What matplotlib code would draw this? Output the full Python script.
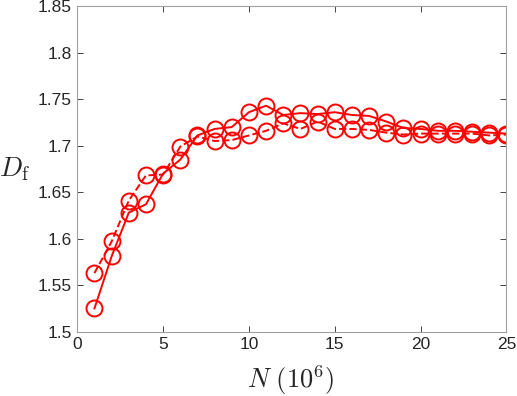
import numpy as np
import matplotlib
matplotlib.use('Agg')
import matplotlib.pyplot as plt

# dados
n_vals = list(range(1, 26))
df_solid = [1.525, 1.581, 1.628, 1.637, 1.670, 1.685, 1.711, 1.718, 1.720, 1.736,
            1.743, 1.733, 1.735, 1.734, 1.736, 1.733, 1.732, 1.726, 1.719, 1.718,
            1.716, 1.716, 1.715, 1.714, 1.713]
df_dashed = [1.563, 1.597, 1.641, 1.668, 1.669, 1.699, 1.710, 1.705, 1.706, 1.711,
             1.716, 1.724, 1.718, 1.726, 1.718, 1.718, 1.717, 1.714, 1.712, 1.713,
             1.713, 1.713, 1.713, 1.711, 1.712]
xticks = [0, 5, 10, 15, 20, 25]
yticks = [1.5, 1.55, 1.6, 1.65, 1.7, 1.75, 1.8, 1.85]

plt.rcParams['font.family'] = ['Liberation Sans', 'DejaVu Sans']
plt.rcParams['mathtext.fontset'] = 'cm'

fig = plt.figure(figsize=(5.17, 3.96), dpi=100)
ax = fig.add_axes([0.1495, 0.1624, 0.830, 0.822])

ax.plot(n_vals, df_solid, '-', color='red', lw=1.4, marker='o', ms=11.5,
        mfc='none', mew=1.4)
ax.plot(n_vals, df_dashed, '--', color='red', lw=1.4, marker='o', ms=11.5,
        mfc='none', mew=1.4)

ax.set_xlim(0, 25)
ax.set_ylim(1.5, 1.85)
ax.set_xticks(xticks)
ax.set_yticks(yticks)
ax.set_yticklabels([f'{v:g}' for v in yticks])

gray = '#262626'
for s in ax.spines.values():
    s.set_color('#a0a0a0')
    s.set_linewidth(0.8)
ax.tick_params(direction='in', top=True, right=True, length=4, width=0.6,
               colors=gray, labelsize=12.5, labelcolor=gray, pad=4)

ax.set_xlabel(r'$N\ (10^6)$', fontsize=19, color=gray)
ax.xaxis.set_label_coords(0.497, -0.097)
ax.set_ylabel(r'$D_{\mathrm{f}}$', fontsize=19.5, color=gray, rotation=0,
              va='center', ha='center')
ax.yaxis.set_label_coords(-0.145, 0.5)

fig.savefig('out.png', dpi=100)
